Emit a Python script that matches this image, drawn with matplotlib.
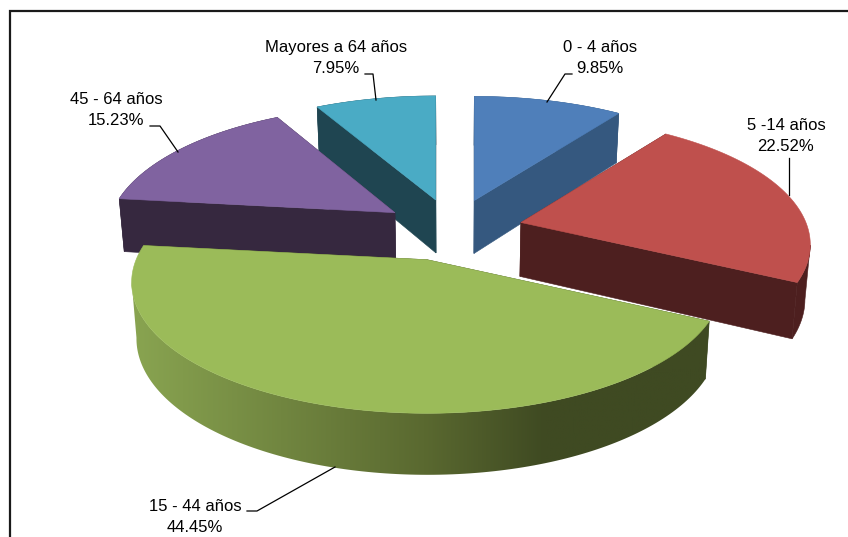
import numpy as np
import matplotlib
matplotlib.use("Agg")
import matplotlib.pyplot as plt
from matplotlib.patches import Polygon

# datos
categorias = ["0 - 4 años", "5 -14 años", "15 - 44 años", "45 - 64 años", "Mayores a 64 años"]
valores = [9.85, 22.52, 44.45, 15.23, 7.95]

color_top = ["#4f7fba", "#bf504d", "#9bbb59", "#8063a0", "#4aabc5"]
color_side = ["#35587f", "#4d1f1f", "#3f4a22", "#36283f", "#1f4551"]

# geometria del pastel en pixeles de la imagen
CX, CY = 453, 230
PERSP = 0.173
EXP_Y = 31
exp_x = [70, 70, 91, 70, 70]
radio_x = [284, 285, 291, 283, 285]
radio_y = [122, 124, 127, 125, 122]


def top_point(apex, ang, rx, ry):
    w = 1 + PERSP * np.cos(ang)
    return apex[0] + rx * np.sin(ang) / w, apex[1] - ry * np.cos(ang) / w


def drop(x, y):
    # el borde de abajo baja mas hacia el frente y converge un poco al centro
    return CX + (x - CX) * 0.985, y + 49 + (y - 100) * 0.040


fig = plt.figure(figsize=(8.48, 5.37), dpi=100)
ax = fig.add_axes([0, 0, 1, 1])
ax.axis("off")

limites = np.cumsum([0] + valores) / 100 * 2 * np.pi

# marco del grafico, solo se ve arriba y a la izquierda
ax.plot([10, 10, 848], [537, 11, 11], color="#1a1a1a", lw=1.6, solid_joinstyle="miter", zorder=1)

# degradado del lado del sector verde
xs_grad = np.linspace(130, 720, 300)
stops = [138, 424, 545]
grad = np.stack([np.interp(xs_grad, stops, [136, 90, 63]),
                 np.interp(xs_grad, stops, [163, 105, 74]),
                 np.interp(xs_grad, stops, [80, 48, 34])], axis=-1)[np.newaxis, :, :] / 255

# orden de dibujo: de atras hacia adelante
z = 2
for i in [4, 0, 3, 1, 2]:
    a0, a1 = limites[i], limites[i + 1]
    mid = (a0 + a1) / 2
    apex = (CX + exp_x[i] * np.sin(mid), CY - EXP_Y * np.cos(mid))
    angs = np.linspace(a0, a1, 160)
    top = np.array([top_point(apex, a, radio_x[i], radio_y[i]) for a in angs])
    bot = np.array([drop(x, y) for x, y in top])
    apex_b = drop(*apex)

    # caras de los cortes
    for p_top, p_bot in [(top[0], bot[0]), (top[-1], bot[-1])]:
        ax.add_patch(Polygon([apex, p_top, p_bot, apex_b], closed=True,
                             fc=color_side[i], ec=color_side[i], lw=0.4, zorder=z))

    # pared exterior, solo el tramo visible hasta el extremo lateral
    ini, fin = 0, len(top)
    if i == 1:
        ini = int(np.argmax(top[:, 0]))
    if i == 2:
        fin = int(np.argmin(top[:, 0])) + 1
    pared = np.vstack([top[ini:fin], bot[ini:fin][::-1]])
    if i == 2:
        im = ax.imshow(grad, extent=(130, 720, 500, 240), aspect="auto", zorder=z + 1)
        clip = Polygon(pared, closed=True, transform=ax.transData)
        im.set_clip_path(clip)
    else:
        ax.add_patch(Polygon(pared, closed=True, fc=color_side[i], ec=color_side[i],
                             lw=0.4, zorder=z + 1))

    # cara de arriba
    ax.add_patch(Polygon(np.vstack([[apex], top]), closed=True,
                         fc=color_top[i], ec=color_top[i], lw=0.4, zorder=z + 2))
    z += 3

# etiquetas
pos_label = [(600, 58), (786, 136), (195, 517), (116, 110), (336, 58)]
for nombre, v, (x, y) in zip(categorias, valores, pos_label):
    ax.text(x, y, f"{nombre}\n{v:.2f}%", ha="center", va="center", fontsize=12,
            family="Liberation Sans", linespacing=1.52, color="black", zorder=z)

# lineas guia
guias = [
    [(572, 74), (565, 74), (547, 102)],
    [(789, 158), (789, 195)],
    [(247, 511), (257, 511), (335, 467)],
    [(150, 126), (160, 126), (178, 152)],
    [(365, 74), (373, 74), (376, 100)],
]
for g in guias:
    xs, ys = zip(*g)
    ax.plot(xs, ys, color="black", lw=0.9, zorder=z)

ax.set_xlim(0, 848)
ax.set_ylim(537, 0)

fig.savefig("out.png", dpi=100, facecolor="white")
